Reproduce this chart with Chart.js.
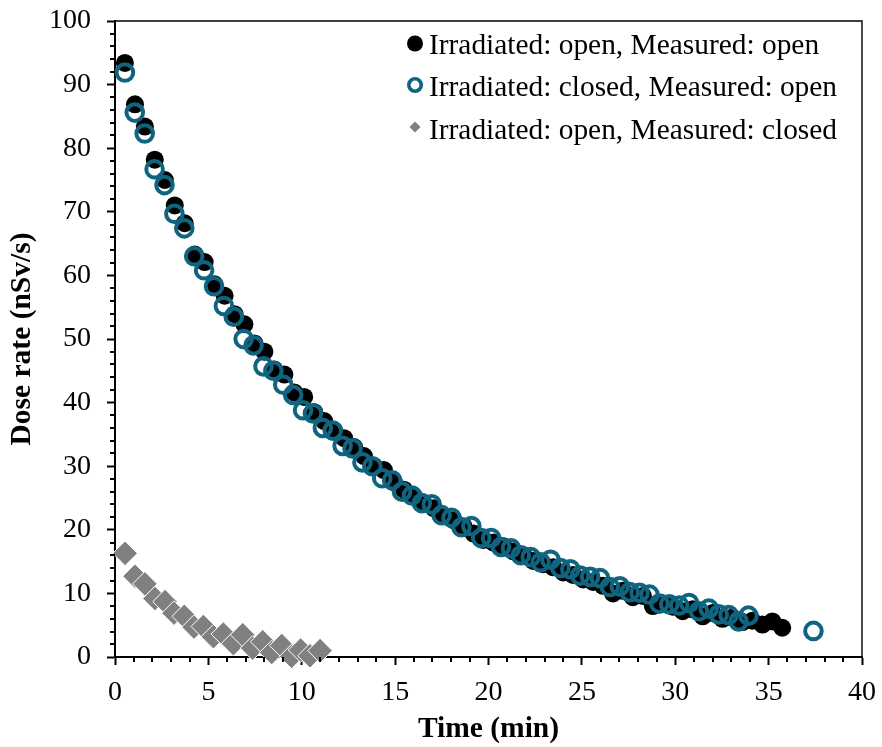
<!DOCTYPE html>
<html>
<head>
<meta charset="utf-8">
<script src="https://cdn.jsdelivr.net/npm/chart.js@4.4.1/dist/chart.umd.min.js"></script>
<style>
  html, body { margin: 0; padding: 0; background: #ffffff; }
  #chart { display: block; }
</style>
</head>
<body>
<canvas id="chart" width="882" height="747"></canvas>
<script>
// Irradiated: open, Measured: open
const timeOpenOpen = [0.53, 1.07, 1.60, 2.13, 2.67, 3.20, 3.73, 4.27, 4.80, 5.33, 5.87, 6.40, 6.93, 7.47, 8.00, 8.53, 9.07, 9.60, 10.13, 10.67,
  11.20, 11.73, 12.27, 12.80, 13.33, 13.87, 14.40, 14.93, 15.47, 16.00, 16.53, 17.07, 17.60, 18.13, 18.67, 19.20, 19.73, 20.27, 20.80, 21.33,
  21.87, 22.40, 22.93, 23.47, 24.00, 24.53, 25.07, 25.60, 26.13, 26.67, 27.20, 27.73, 28.27, 28.80, 29.33, 29.87, 30.40, 30.93, 31.47, 32.00,
  32.53, 33.07, 33.60, 34.13, 34.67, 35.20, 35.73];
const doseOpenOpen = [93.4, 86.9, 83.4, 78.2, 75.0, 71.0, 68.2, 63.3, 62.1, 58.6, 56.8, 53.9, 52.3, 49.3, 48.0, 45.2, 44.4, 41.6, 40.9, 38.5,
  37.1, 35.6, 34.4, 33.0, 31.6, 30.0, 29.4, 27.5, 26.3, 25.3, 24.1, 23.4, 22.2, 21.5, 20.5, 19.4, 18.4, 18.0, 17.4, 16.6,
  16.0, 15.1, 14.6, 14.1, 13.3, 12.9, 12.2, 11.8, 11.2, 10.0, 10.4, 9.4, 9.6, 8.0, 8.4, 7.9, 7.2, 7.5, 6.4, 6.9,
  6.0, 6.2, 5.5, 5.7, 5.1, 5.6, 4.6];

// Irradiated: closed, Measured: open
const timeClosedOpen = [0.53, 1.06, 1.59, 2.12, 2.65, 3.18, 3.71, 4.24, 4.77, 5.30, 5.83, 6.36, 6.89, 7.42, 7.95, 8.48, 9.01, 9.54, 10.07, 10.60,
  11.13, 11.66, 12.19, 12.72, 13.25, 13.78, 14.31, 14.84, 15.37, 15.90, 16.43, 16.96, 17.49, 18.02, 18.55, 19.08, 19.61, 20.14, 20.67, 21.20,
  21.73, 22.26, 22.79, 23.32, 23.85, 24.38, 24.91, 25.44, 25.97, 26.50, 27.03, 27.56, 28.09, 28.62, 29.15, 29.68, 30.21, 30.74, 31.27, 31.80,
  32.33, 32.86, 33.39, 33.92, 37.40];
const doseClosedOpen = [91.9, 85.6, 82.3, 76.7, 74.2, 69.7, 67.4, 63.0, 60.8, 58.3, 55.2, 53.5, 50.0, 49.0, 45.7, 45.0, 42.8, 41.2, 38.8, 38.3,
  36.0, 35.6, 33.2, 32.8, 30.6, 30.0, 28.1, 27.8, 26.0, 25.4, 24.2, 24.0, 22.3, 21.9, 20.4, 20.6, 18.7, 18.7, 17.3, 17.1,
  16.0, 15.7, 14.9, 15.3, 14.0, 13.8, 12.8, 12.6, 12.4, 11.0, 11.1, 10.2, 10.1, 9.8, 8.4, 8.3, 8.1, 8.5, 7.2, 7.6,
  6.7, 6.6, 5.6, 6.5, 4.1];

// Irradiated: open, Measured: closed
const timeOpenClosed = [0.54, 1.07, 1.60, 2.14, 2.68, 3.16, 3.71, 4.23, 4.73, 5.27, 5.80, 6.34, 6.84, 7.37, 7.91, 8.39, 8.93, 9.46, 9.94, 10.44, 10.98];
const doseOpenClosed = [16.3, 12.7, 11.5, 9.2, 8.7, 6.9, 6.4, 4.7, 4.8, 3.2, 3.6, 2.1, 3.5, 1.4, 2.4, 0.7, 1.8, 0.1, 1.1, 0.2, 1.0];

const seriesLabels = [
  'Irradiated: open, Measured: open',
  'Irradiated: closed, Measured: open',
  'Irradiated: open, Measured: closed'
];

const SERIF = "'Liberation Serif', 'Times New Roman', serif";
const TEAL = '#0f6580';
const GREY = '#808080';

const toPoints = (xs, ys) => xs.map((x, i) => ({ x: x, y: ys[i] }));

// Minor tick marks plus the thin frame along the top and right of the plot area
const framePlugin = {
  id: 'frame',
  afterDraw(chart) {
    const { ctx, chartArea: a, scales } = chart;
    const xs = scales.x, ys = scales.y;
    ctx.save();
    ctx.strokeStyle = '#000';
    ctx.lineWidth = 2;
    ctx.beginPath();
    for (let v = 1; v < 40; v++) {
      if (v % 5 === 0) continue;
      const px = Math.round(xs.getPixelForValue(v));
      ctx.moveTo(px, a.bottom);
      ctx.lineTo(px, a.bottom + 5);
    }
    for (let v = 2; v < 100; v += 2) {
      if (v % 10 === 0) continue;
      const py = Math.round(ys.getPixelForValue(v));
      ctx.moveTo(a.left, py);
      ctx.lineTo(a.left - 5, py);
    }
    ctx.stroke();
    ctx.lineWidth = 1.4;
    ctx.beginPath();
    ctx.moveTo(a.left, a.top);
    ctx.lineTo(a.right, a.top);
    ctx.lineTo(a.right, a.bottom);
    ctx.stroke();
    ctx.restore();
  }
};

// Legend drawn inside the plot area, top right
const legendPlugin = {
  id: 'insideLegend',
  afterDraw(chart) {
    const { ctx } = chart;
    const x0 = 415, textX = 429;
    const rows = [
      { y: 43.5, base: 53.5 },
      { y: 85, base: 96 },
      { y: 127, base: 138.5 }
    ];
    ctx.save();
    // filled circle
    ctx.fillStyle = '#000';
    ctx.beginPath();
    ctx.arc(x0, rows[0].y, 8, 0, Math.PI * 2);
    ctx.fill();
    // open circle
    ctx.strokeStyle = TEAL;
    ctx.lineWidth = 3.6;
    ctx.beginPath();
    ctx.arc(x0, rows[1].y, 6.2, 0, Math.PI * 2);
    ctx.stroke();
    // diamond
    ctx.fillStyle = GREY;
    ctx.beginPath();
    ctx.moveTo(x0 - 5.5, rows[2].y);
    ctx.lineTo(x0, rows[2].y - 5.5);
    ctx.lineTo(x0 + 5.5, rows[2].y);
    ctx.lineTo(x0, rows[2].y + 5.5);
    ctx.closePath();
    ctx.fill();
    ctx.fillStyle = '#000';
    ctx.font = '29.4px ' + SERIF;
    ctx.textAlign = 'left';
    ctx.textBaseline = 'alphabetic';
    seriesLabels.forEach((t, i) => ctx.fillText(t, textX, rows[i].base));
    ctx.restore();
  }
};

new Chart(document.getElementById('chart'), {
  type: 'scatter',
  data: {
    datasets: [
      {
        label: seriesLabels[0],
        data: toPoints(timeOpenOpen, doseOpenOpen),
        pointStyle: 'circle',
        pointRadius: 9,
        pointBackgroundColor: '#000',
        pointBorderWidth: 0,
        pointBorderColor: '#000',
        order: 2,
        clip: false
      },
      {
        label: seriesLabels[1],
        data: toPoints(timeClosedOpen, doseClosedOpen),
        pointStyle: 'circle',
        pointRadius: 8.3,
        pointBackgroundColor: 'rgba(0,0,0,0)',
        pointBorderColor: TEAL,
        pointBorderWidth: 4,
        order: 1,
        clip: false
      },
      {
        label: seriesLabels[2],
        data: toPoints(timeOpenClosed, doseOpenClosed),
        pointStyle: 'rectRot',
        pointRadius: 12.3,
        pointBackgroundColor: GREY,
        pointBorderColor: '#ffffff',
        pointBorderWidth: 1,
        order: 3,
        clip: false
      }
    ]
  },
  options: {
    responsive: false,
    animation: false,
    events: [],
    layout: { padding: { top: 21, right: 20, left: 0, bottom: 0 } },
    plugins: {
      legend: { display: false },
      tooltip: { enabled: false }
    },
    scales: {
      x: {
        type: 'linear',
        min: 0,
        max: 40,
        ticks: {
          stepSize: 5,
          color: '#000',
          padding: 11,
          maxRotation: 0,
          font: { family: SERIF, size: 28 }
        },
        grid: { drawOnChartArea: false, drawTicks: true, tickLength: 8, tickWidth: 2, tickColor: '#000' },
        border: { display: true, color: '#000', width: 2 },
        title: {
          display: true,
          text: 'Time (min)',
          color: '#000',
          font: { family: SERIF, size: 29.5, weight: 'bold' },
          padding: { top: 1, bottom: 0 }
        },
        afterFit(scale) {
          scale.height = 90;
          scale.paddingLeft = 0;
          scale.paddingRight = 0;
        }
      },
      y: {
        type: 'linear',
        min: 0,
        max: 100,
        ticks: {
          stepSize: 10,
          color: '#000',
          padding: 16,
          font: { family: SERIF, size: 28 }
        },
        grid: { drawOnChartArea: false, drawTicks: true, tickLength: 8, tickWidth: 2, tickColor: '#000' },
        border: { display: true, color: '#000', width: 2 },
        title: {
          display: true,
          text: 'Dose rate (nSv/s)',
          color: '#000',
          font: { family: SERIF, size: 29.5, weight: 'bold' },
          padding: { top: 5, bottom: 0 }
        },
        afterFit(scale) {
          scale.width = 115;
          scale.paddingTop = 0;
          scale.paddingBottom = 0;
        }
      }
    }
  },
  plugins: [framePlugin, legendPlugin]
});
</script>
</body>
</html>
